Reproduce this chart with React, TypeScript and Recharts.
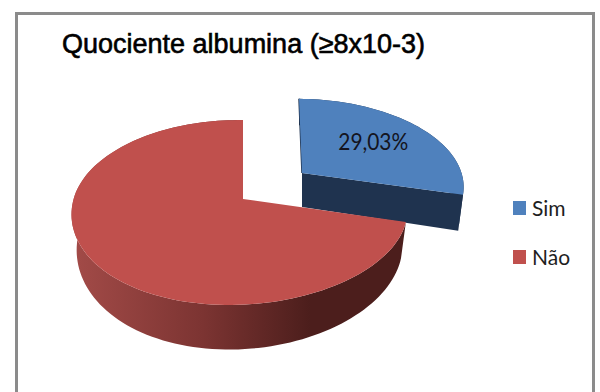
import React from "react";
import { Legend, Pie, PieChart } from "recharts";

const categories = ["Sim", "Não"];
const shares = [29.03, 70.97];
const topColors = ["#4f81bd", "#c0504d"];
const titleText = "Quociente albumina (≥8x10-3)";

const pieData = categories.map((name, i) => ({ name, value: shares[i], fill: topColors[i] }));

// Perspective of the tilted disc: near edge larger than far edge.
const TILT_RATIO = 0.545;
const NEAR_GAIN = 0.146;
const SIDE_GAIN = -0.02;
const NEAR_SHEAR = 10;
// Floor of the extruded disc relative to its lid.
const DEPTH = 34;
const FLOOR_X = 0.97;
const FLOOR_Y = 1.1;
// The "Sim" wedge is pulled out of the pie.
const EXPLODE_DX = 59;
const EXPLODE_DY = -26;
const EXPLODE_SCALE_X = 0.98;
const EXPLODE_SCALE_Y = 0.94;
const EXPLODE_LEAN = 3;

type Pt = [number, number];

function project(angle: number, radius: number, cx: number, cy: number, sx = 1, sy = 1, lean = 0): Pt {
  const rad = (angle * Math.PI) / 180;
  const u = Math.cos(rad);
  const v = -Math.sin(rad);
  const w = 1 - NEAR_GAIN * v - SIDE_GAIN * u;
  const shear = v > 0 ? NEAR_SHEAR * v * v : 0;
  return [cx + (radius * sx * u) / w - (lean ? -lean * v : shear), cy + (radius * TILT_RATIO * sy * v) / w];
}

function toPath(points: Pt[]): string {
  return points.map(([x, y], i) => `${i ? "L" : "M"}${x.toFixed(2)} ${y.toFixed(2)}`).join(" ") + " Z";
}

function Wedge3D(props: any) {
  const { cx, cy, outerRadius, startAngle, endAngle, fill, name } = props;
  const exploded = name === categories[0];
  const ox = cx + (exploded ? EXPLODE_DX : 0);
  const oy = cy + (exploded ? EXPLODE_DY : 0);
  const lidX = exploded ? EXPLODE_SCALE_X : 1;
  const lidY = exploded ? EXPLODE_SCALE_Y : 1;
  const lean = exploded ? EXPLODE_LEAN : 0;

  const steps = Math.max(2, Math.ceil(Math.abs(endAngle - startAngle) / 2));
  const angles = Array.from({ length: steps + 1 }, (_, i) => startAngle + ((endAngle - startAngle) * i) / steps);
  const lid = angles.map((a) => project(a, outerRadius, ox, oy, lidX, lidY, lean));
  const floor = angles.map((a) => project(a, outerRadius, ox, oy + DEPTH, FLOOR_X * lidX, FLOOR_Y * lidY, lean));
  const apexTop: Pt = [ox, oy];
  const apexBottom: Pt = [ox, oy + DEPTH];

  const wallFill = exploded ? "#1f334f" : "url(#redWall)";
  return (
    <g>
      <defs>
        <linearGradient id="redWall" gradientUnits="userSpaceOnUse" x1={72} x2={310} y1={0} y2={0}>
          <stop offset="0" stopColor="#a34b48" />
          <stop offset="0.55" stopColor="#7c3432" />
          <stop offset="1" stopColor="#4c1e1c" />
        </linearGradient>
      </defs>
      <path d={toPath([...lid, ...floor.slice().reverse()])} fill={wallFill} />
      {exploded && (
        <path
          d={toPath([apexTop, lid[lid.length - 1], floor[floor.length - 1], apexBottom])}
          fill={wallFill}
        />
      )}
      {exploded && <path d={toPath([lid[0], apexTop])} stroke={wallFill} strokeWidth={1.5} fill="none" />}
      <path d={toPath([apexTop, ...lid])} fill={fill} />
    </g>
  );
}

function shareLabel(props: any) {
  const { cx, cy, outerRadius, midAngle, name, value } = props;
  if (name !== categories[0]) return null;
  const [x, y] = project(midAngle, outerRadius * 0.6, cx + EXPLODE_DX, cy + EXPLODE_DY - 2);
  return (
    <text
      x={x}
      y={y}
      textAnchor="middle"
      dominantBaseline="central"
      fontFamily="Lato"
      fontSize={23}
      textLength={70}
      lengthAdjust="spacingAndGlyphs"
      fill="#141420"
    >
      {`${value.toFixed(2).replace(".", ",")}%`}
    </text>
  );
}

function LegendList({ payload }: any) {
  return (
    <div style={{ display: "flex", flexDirection: "column", gap: 25 }}>
      {(payload ?? []).map((entry: any) => (
        <div key={entry.value} style={{ display: "flex", alignItems: "center", height: 24, gap: 6 }}>
          <span style={{ width: 13, height: 14, background: entry.color, display: "block" }} />
          <span style={{ fontFamily: "Lato", fontSize: 21, color: "#1e1e1e", position: "relative", top: -1 }}>
            {entry.value}
          </span>
        </div>
      ))}
    </div>
  );
}

export default function App() {
  return (
    <div
      style={{
        position: "absolute",
        left: 0,
        top: 0,
        width: 600,
        height: 392,
        overflow: "hidden",
        background: "#fff",
      }}
    >
      <div
        style={{
          position: "absolute",
          left: 15,
          top: 12,
          width: 574,
          height: 400,
          border: "3px solid #8b8b8b",
          boxSizing: "content-box",
        }}
      />
      <div
        style={{
          position: "absolute",
          left: 62,
          top: 29,
          fontFamily: "Liberation Sans",
          fontSize: 27,
          color: "#000",
          WebkitTextStroke: "0.6px #000",
          whiteSpace: "nowrap",
        }}
      >
        {titleText}
      </div>
      <div style={{ position: "absolute", left: 0, top: 0 }}>
        <PieChart width={600} height={392} margin={{ top: 0, right: 0, bottom: 0, left: 0 }}>
          <Pie
            data={pieData}
            dataKey="value"
            nameKey="name"
            cx={243}
            cy={199}
            outerRadius={166}
            startAngle={90}
            endAngle={-270}
            stroke="none"
            isAnimationActive={false}
            shape={Wedge3D}
            label={shareLabel}
            labelLine={false}
          />
          <Legend
            layout="vertical"
            align="right"
            verticalAlign="top"
            itemSorter={null}
            wrapperStyle={{ left: 513, top: 196, width: 80 }}
            content={<LegendList />}
          />
        </PieChart>
      </div>
    </div>
  );
}
